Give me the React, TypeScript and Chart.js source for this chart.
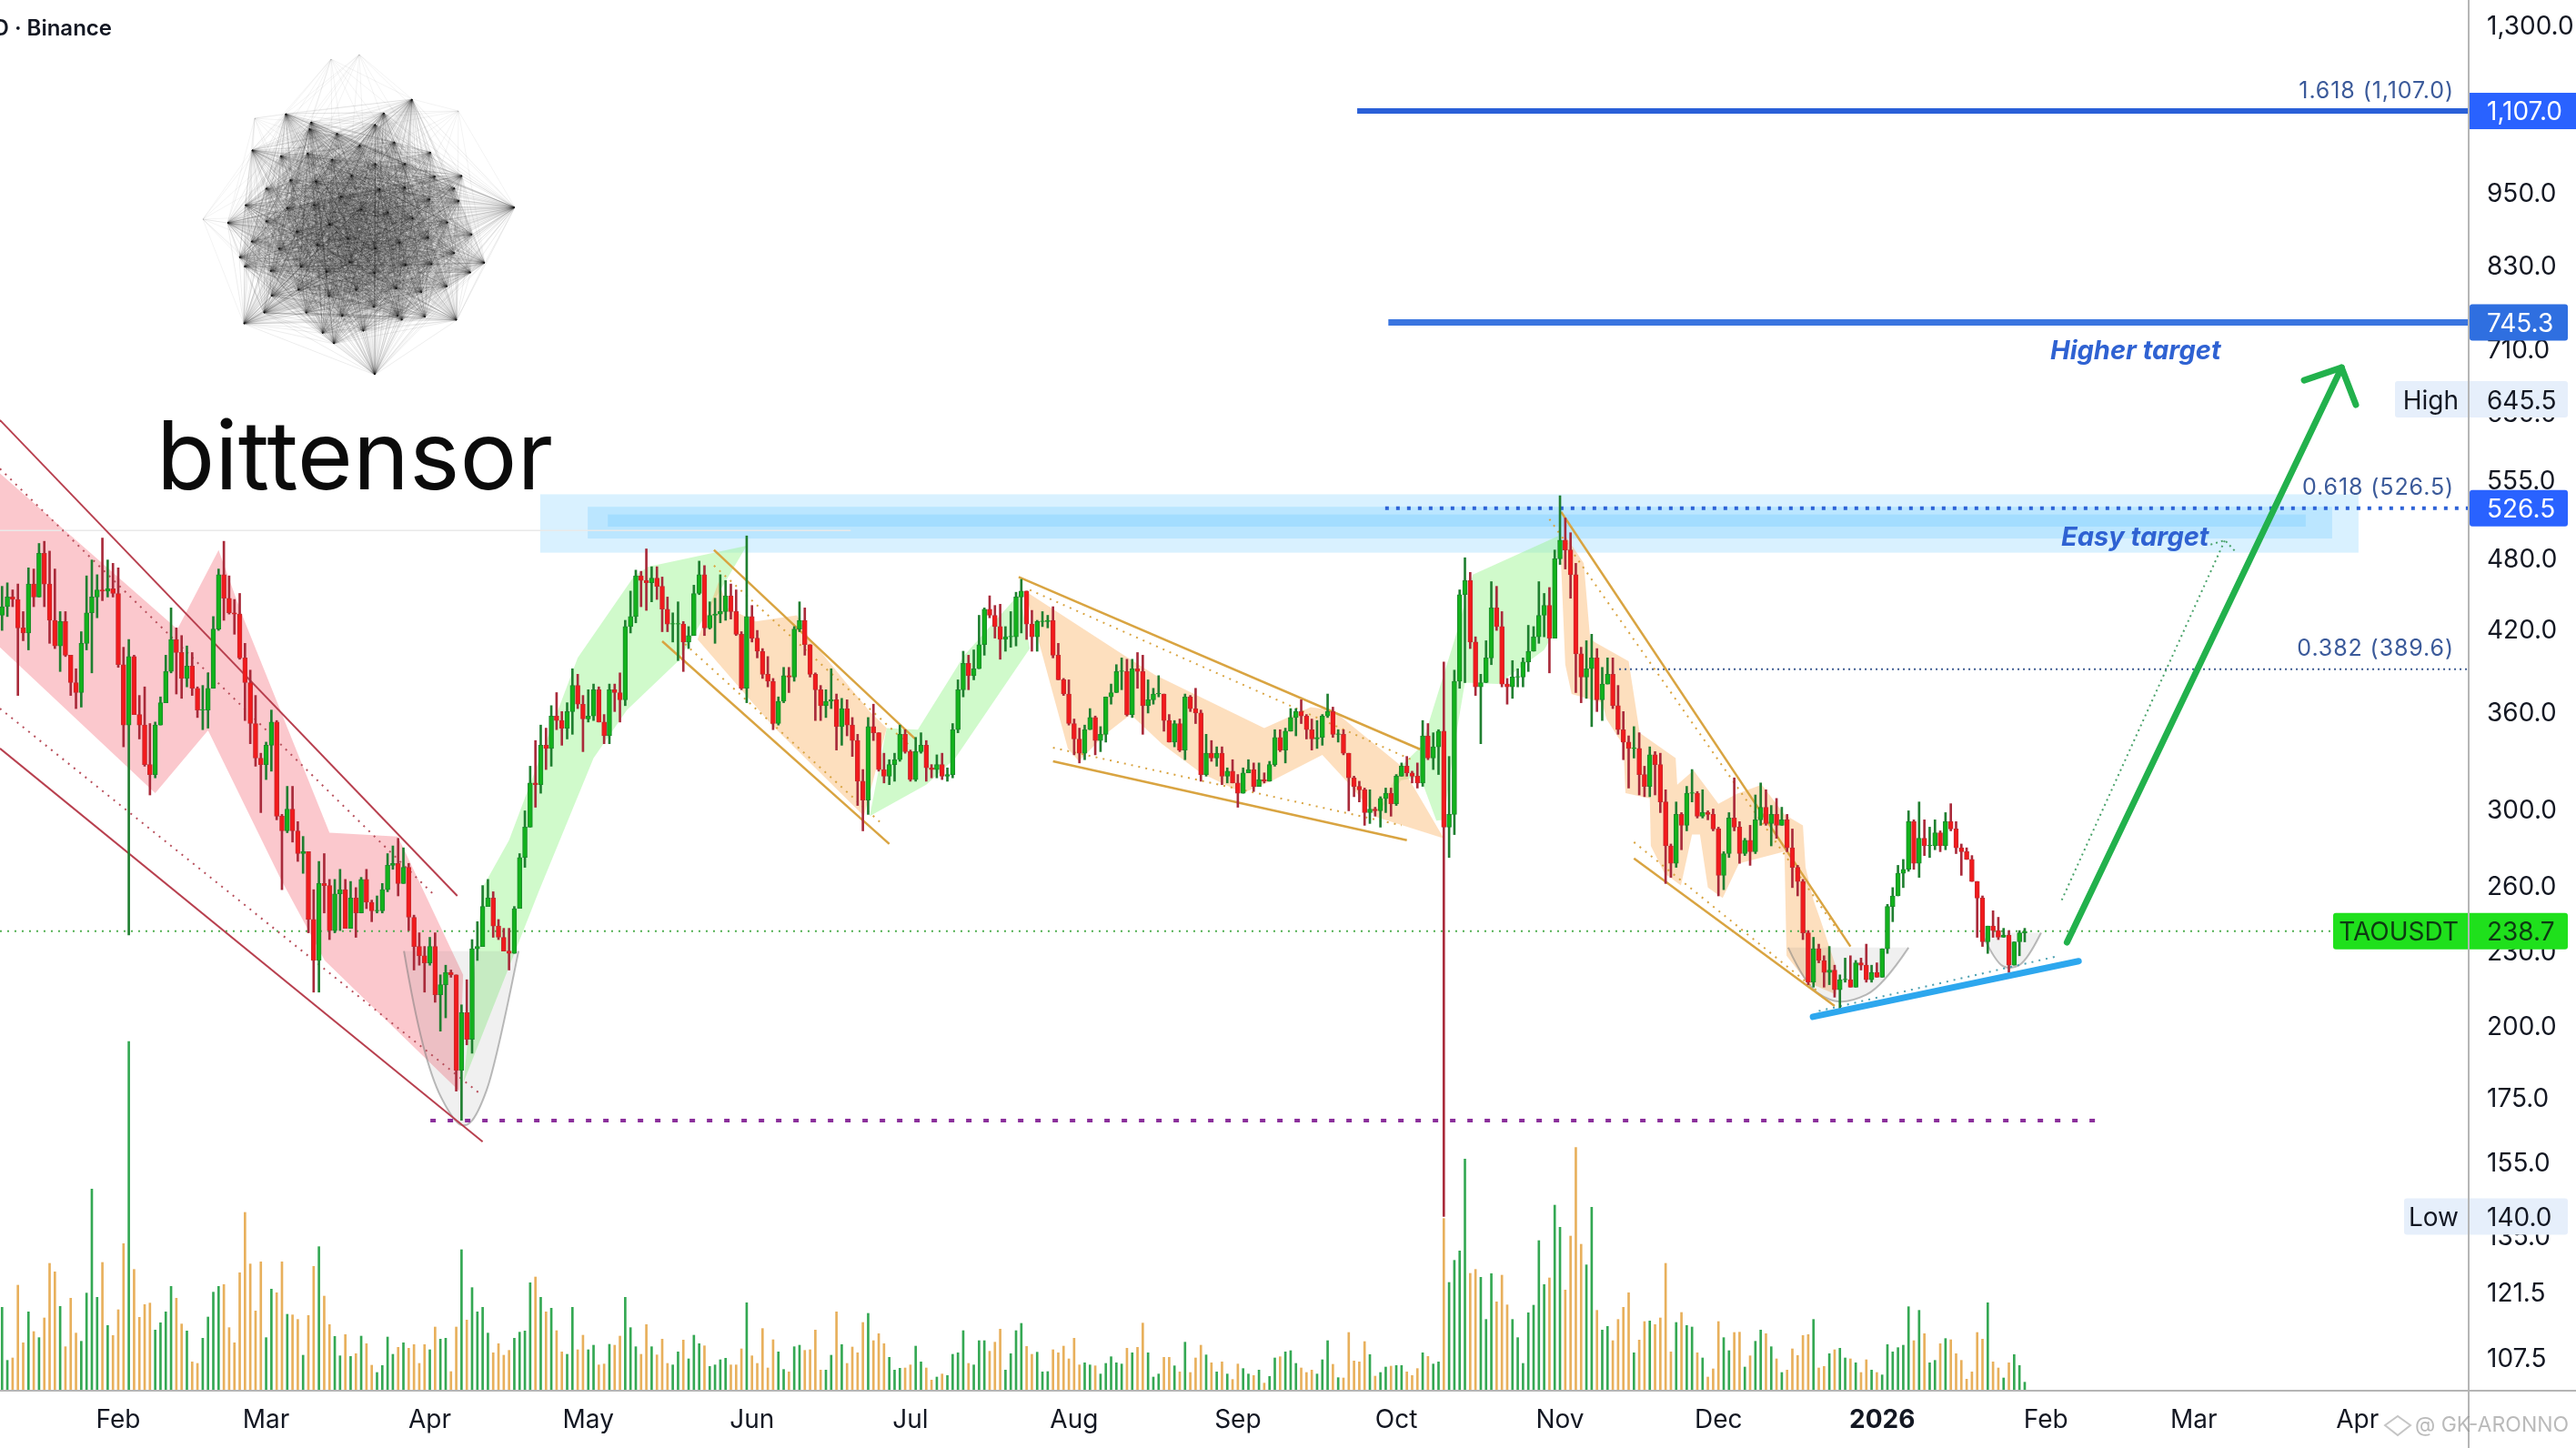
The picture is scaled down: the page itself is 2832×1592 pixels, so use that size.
import React, { useEffect, useRef } from "react";
import { Chart, registerables } from "chart.js";

Chart.register(...registerables);

// ---- daily candles, day numbers counted from 1 Feb 2025 ----
const firstDay = -22;
const firstOpen = 431;
const closes = [
  438,446,444,421,417,457,446,484,457,427, 407,426,400,380,373,409,433,446,452,451,
  453,449,393,351,399,358,351,326,320,351, 366,388,412,402,383,392,376,361,361,376,
  420,465,445,433,432,398,380,352,330,326, 338,353,296,288,300,288,276,277,244,226,
  261,260,239,256,258,240,254,247,263,252, 248,248,258,270,271,261,269,245,232,228,
  225,232,212,216,221,220,184,205,195,231, 232,250,254,241,236,230,229,249,274,290,
  315,314,338,336,357,354,349,360,378,365, 355,357,375,353,344,375,373,368,422,430,
  464,460,458,462,455,436,424,424,424,410, 415,449,465,421,431,432,434,447,434,416,
  376,430,413,403,386,381,352,367,385,384, 420,427,408,386,375,364,367,368,350,362,
  351,341,316,305,350,346,323,319,326,329, 345,334,317,334,338,324,323,326,319,320,
  348,375,394,385,390,408,436,431,422,412, 414,414,446,451,424,414,426,426,427,400,
  382,372,352,342,333,348,356,341,345,370, 373,388,388,358,390,388,364,368,372,372,
  354,340,352,335,370,362,359,320,333,330, 333,319,322,315,309,321,323,313,317,316,
  326,343,335,347,356,360,357,348,342,343, 357,360,345,345,333,318,313,311,298,300,
  299,306,309,303,319,325,321,319,315,344, 330,337,347,290,297,381,448,460,410,377,
  380,398,437,422,379,377,384,384,395,403, 414,431,439,413,479,496,487,465,401,384,
  390,398,368,379,386,364,348,340,336,336, 320,313,332,326,304,280,271,297,291,309,
  309,296,298,297,289,265,276,295,290,276, 283,277,294,301,292,297,291,294,279,269,
  262,238,217,231,226,221,222,214,218,218, 215,225,224,218,221,219,231,250,255,266,
  268,293,271,284,280,280,287,280,293,289, 279,277,273,262,254,234,241,239,236,237,
  224,234,238,238.7,
];
const highs = [
  455,458,452,457,434,471,470,493,495,486, 470,434,434,400,390,418,464,478,465,498,
  478,475,471,406,412,400,371,377,352,353, 370,400,437,421,415,407,402,377,378,387,
  430,470,495,464,444,449,409,389,371,333, 340,361,354,297,313,313,293,285,277,258,
  272,276,263,263,268,263,262,259,264,268, 253,255,261,276,280,284,279,271,246,238,
  232,236,238,220,224,222,220,208,218,235, 243,260,263,257,244,240,240,250,276,299,
  325,341,351,349,364,373,360,366,390,386, 371,375,379,377,358,379,379,387,427,451,
  469,468,488,472,472,463,446,433,442,426, 422,456,477,473,442,445,465,460,457,452,
  418,500,439,419,405,399,383,370,391,391, 422,442,437,408,387,378,375,390,372,369,
  368,356,345,323,356,365,346,333,329,333, 351,348,335,343,346,341,326,332,333,324,
  352,382,403,400,404,431,437,447,439,440, 422,434,450,461,451,435,427,434,431,438,
  409,383,382,355,349,351,362,357,350,370, 379,393,398,397,397,402,400,382,376,385,
  372,358,354,355,372,371,376,361,345,341, 337,337,324,329,320,324,329,327,327,321,
  328,348,348,349,362,362,368,358,355,354, 358,372,363,348,348,333,319,316,312,311,
  301,307,312,312,320,327,331,322,327,354, 352,346,348,395,331,389,452,480,467,414,
  386,411,459,455,434,383,396,390,398,423, 422,459,449,454,487,539,517,503,475,406,
  411,416,405,391,398,398,378,360,344,350, 346,325,337,334,333,311,281,304,298,313,
  323,310,311,299,300,290,277,298,318,293, 284,291,308,315,311,302,306,301,297,289,
  270,263,239,236,233,228,232,224,220,227, 228,226,227,233,224,225,231,251,259,270,
  273,299,294,304,294,290,294,288,298,303, 293,281,279,275,262,255,241,248,245,240,
  239,234,239,240,
];
const lows = [
  419,430,438,371,411,404,438,446,438,409, 405,388,399,371,362,363,404,387,429,443,
  446,446,391,337,237,358,342,325,308,318, 351,366,387,372,369,377,371,356,348,349,
  376,419,427,432,416,397,354,339,325,298, 317,322,294,258,287,282,272,266,238,213,
  213,247,235,238,239,240,241,236,247,249, 243,247,247,257,268,255,261,239,222,224,
  213,224,209,198,203,219,177,167.6,193,190, 226,232,250,236,235,230,222,229,250,269,
  290,301,309,323,325,348,338,342,345,362, 334,353,354,353,339,339,360,353,364,417,
  425,438,435,442,444,418,418,410,396,388, 405,415,448,415,420,409,425,427,428,415,
  375,366,410,398,383,377,348,351,366,373, 381,418,400,384,354,354,356,362,335,338,
  344,331,302,288,297,341,322,315,314,316, 328,333,316,316,333,316,318,318,317,316,
  318,346,370,375,382,390,400,429,413,397, 403,406,407,417,412,403,403,422,421,398,
  382,371,351,332,327,329,348,332,334,340, 365,373,375,357,356,376,345,359,365,370,
  347,340,337,334,329,360,352,316,319,328, 325,314,315,315,301,309,321,310,313,315,
  316,325,334,327,347,344,352,342,335,336, 338,356,343,340,332,299,307,304,291,292,
  296,290,298,296,302,319,319,315,312,313, 329,323,320,140,274,286,376,380,405,371,
  339,380,393,419,377,365,369,377,377,388, 403,409,414,387,414,474,470,445,373,366,
  369,350,360,354,379,362,345,329,312,330, 308,307,307,308,298,261,264,269,278,288,
  304,295,295,294,288,255,258,274,288,271, 275,270,276,291,291,280,284,291,277,259,
  255,235,216,215,225,215,216,211,205,217, 215,215,222,217,217,219,219,229,243,255,
  259,267,268,264,275,274,278,277,278,288, 276,265,273,262,236,232,229,236,235,236,
  221,224,228,234,
];
const volumes = [
  275,100,108,348,158,260,195,175,240,420, 392,278,145,305,190,163,322,665,308,423,
  215,182,267,485,1152,400,242,284,289,200, 224,260,344,305,220,197,95,90,173,243,
  325,344,350,208,158,389,588,418,263,425, 175,335,323,425,252,250,235,117,248,410,
  475,312,218,179,115,185,113,122,180,155, 84,60,83,177,120,143,158,140,152,90,
  152,135,210,170,173,63,210,465,233,340, 260,275,190,125,155,117,133,173,193,197,
  356,375,308,260,272,198,128,120,275,135, 183,135,150,85,88,153,150,180,308,208,
  145,120,218,145,118,170,90,85,128,167, 105,183,155,148,80,85,102,107,85,85,
  138,290,115,90,205,75,168,128,70,62, 145,150,133,135,200,68,68,117,260,152,
  90,144,125,225,255,165,188,155,110,68, 74,75,85,147,95,75,35,45,55,50,
  120,125,198,90,85,165,165,130,160,203, 68,122,198,222,146,120,127,62,63,135,
  125,147,105,173,85,92,85,82,55,90, 112,92,88,140,125,143,223,125,45,55,
  110,110,82,62,160,60,108,150,118,92, 62,95,55,37,88,73,55,50,68,25,
  47,108,112,128,132,90,75,60,68,55, 102,165,87,43,42,192,98,95,162,119,
  48,60,78,81,83,83,62,50,73,125, 113,88,95,568,357,430,461,764,387,400,
  374,235,386,293,381,283,235,175,90,257, 282,495,350,372,612,539,332,510,802,483,
  415,605,265,200,212,165,235,275,323,125, 167,228,230,218,240,420,128,225,258,215,
  210,125,108,45,72,228,175,132,192,193, 78,115,163,200,188,145,105,60,68,138,
  116,182,185,235,75,80,122,135,140,108, 105,92,60,102,68,60,52,152,128,142,
  150,277,165,265,188,92,100,155,172,168, 122,100,38,62,192,170,290,95,75,42,
  92,119,83,28,
];

// ---- axes ----
const priceTicks = [1300,950,830,710,630,555,480,420,360,300,260,230,200,175,155,135,121.5,107.5];
const monthDays = [0,28,59,89,120,150,181,212,242,273,303,334,365,393,424];
const monthLabels = ["Feb","Mar","Apr","May","Jun","Jul","Aug","Sep","Oct","Nov","Dec","2026","Feb","Mar","Apr"];

// ---- drawings on the chart, as [day, price] ----
type P = [number, number];
const redUpper: P[] = [[-22.4,621],[64.2,255]];
const redLower: P[] = [[-22.4,336],[69,161]];
const redUpperDots: P[] = [[-22.4,567],[60,255]];
const redLowerDots: P[] = [[-22.4,362],[68.6,176]];
const junUpper: P[] = [[112.8,487],[150.9,342]];
const junLower: P[] = [[103,410.6],[146,281]];
const junUpperDots: P[] = [[112.8,473],[149.8,338]];
const junLowerDots: P[] = [[107.3,408.5],[144.9,291]];
const sepUpper: P[] = [[170.5,463],[246.5,335.5]];
const sepLower: P[] = [[177,328],[244,283]];
const sepUpperDots: P[] = [[172.6,452],[245.6,328]];
const sepLowerDots: P[] = [[177,336.5],[243,291]];
const decUpper: P[] = [[273.2,523],[328,232]];
const decLower: P[] = [[287,273.5],[325,207.6]];
const decUpperDots: P[] = [[271,516],[325.9,238]];
const decLowerDots: P[] = [[287,282],[322,213]];
const supportLine: P[] = [[320.9,203.4],[371.2,225.7]];
const supportDots: P[] = [[322,205.6],[367.6,228]];
const arrowShaft: P[] = [[369,233.8],[421,685]];
const arrowHead: P[] = [[413.9,669],[421,685],[423.7,639]];
const easyPath: P[] = [[368,253],[398.9,496]];
const easyHead: P[] = [[396.2,492],[398.9,496],[401,485]];
const level1107: P[] = [[234.6,1107],[445.1,1107]];
const level745: P[] = [[240.5,745.3],[445.1,745.3]];
const level526: P[] = [[239.9,526.5],[445.1,526.5]];
const level389: P[] = [[284.2,389.6],[445.1,389.6]];
const levelLast: P[] = [[-22.4,238.7],[419.4,238.7]];
const levelLow: P[] = [[59.1,167.5],[376.2,167.5]];
const oldHigh: P[] = [[-22.4,505],[138.7,505]];

const redZone: P[] = [[-22.4,562],[11.2,420],[19,487],[23.4,432],[40,287],[52.9,285],[54.3,277],[65.3,220],[64.6,177],[39.1,226],[30.8,263],[17,347.5],[7,309],[-22.4,406]];
const greenZones: P[][] = [
  [[65.4,180],[69,259],[74,283],[87,398],[97.7,464],[100.4,472],[119,491],[106,395.5],[96.3,361],[90,330],[79.6,257]],
  [[142.3,296],[145.5,349],[151.4,348],[160.2,400],[170.7,449],[172.6,405],[158.5,330],[153,314]],
  [[238.2,296],[242.9,325],[246.8,337.6],[253.2,414],[256.5,465],[272.7,500],[271.8,417],[270,404],[261.3,379],[255,380],[252.8,334],[251,294],[249.6,293.5],[246.5,319],[242.9,316.5]],
];
const orangeZones: P[][] = [
  [[109.7,412],[113.7,459],[115.4,437],[120.7,426],[128.5,431],[130.7,414],[142.3,360],[145.5,349],[141.2,296],[123.8,351]],
  [[171.7,451],[190.8,399],[196.3,385.5],[217,349],[225.8,363],[230,361],[243,325],[251,284],[238.2,295.6],[233.2,314],[228,332],[218.6,316.5],[212.9,309],[205,321],[197.6,339],[191.7,358],[186.9,345],[181.9,328],[179.8,336]],
  [[274.2,499],[277.5,475],[278.7,413],[279.5,410],[286,395.5],[288.1,346],[294.9,330],[295.2,314],[298.3,322.5],[303,303],[306.4,308.5],[311.2,314],[315.5,297],[319,291],[319.5,269],[321,253],[322.3,244],[325.3,223],[325.3,212],[319.8,217],[315.9,228],[315.5,277],[306.9,271],[303.8,254],[301,259],[299.5,286],[298,286],[295.9,260],[292.8,266],[290.2,280],[290,306],[285.4,309],[285,338],[281.8,355],[281,366],[275.2,372],[274,393],[273.2,475]],
];
const bowls: P[][] = [
  [[54.1,230],[56,206],[59.4,181],[62.9,169],[65.4,165],[68,169],[71.5,186],[75.8,230]],
  [[316.2,231.5],[319.5,216],[324,209.5],[328,209],[334,215],[339,231.5]],
  [[352.8,238],[355.5,225],[358.4,222],[361.5,226],[364.1,238]],
];
const easyBands: [number,number,number,number][] = [
  [79.9,424.2,540.5,484.6],
  [88.9,419.2,528,497.6],
  [92.7,414.2,520.5,508.7],
];

const logoRim: P[] = [[453,109],[314,125],[268,356],[367,378],[412,412],[502,352],[533,289],[566,228],[250,245],[263,283],[277,165],[342,134],[422,124],[500,207],[290,344],[442,352]];
const logoFaint: P[] = [[364,65],[504,122],[223,241],[395,60],[280,130]];

const UP = "#12b21c", DOWN = "#f21a1c";
const UP_EDGE = "#1c8a2c", DOWN_EDGE = "#c72a2e";
const UP_WICK = "#1f7f30", DOWN_WICK = "#a92a3a";
const FONT = "Inter";

function App() {
  const ref = useRef<HTMLCanvasElement>(null);
  useEffect(() => {
    document.body.style.margin = "0";
    const opens = closes.map((_, i) => (i === 0 ? firstOpen : closes[i - 1]));
    const days = closes.map((_, i) => firstDay + i);
    const isUp = closes.map((c, i) => c >= opens[i]);

    const line = (pts: P[], color: string, width: number, dash: number[] = [], order = 5, cap: CanvasLineCap = "butt") => ({
      type: "line" as const,
      data: pts.map(([x, y]) => ({ x, y })),
      borderColor: color,
      borderWidth: width,
      borderDash: dash,
      borderCapStyle: cap,
      borderJoinStyle: "round" as const,
      pointRadius: 0,
      tension: 0,
      fill: false,
      order,
      yAxisID: "y",
      xAxisID: "x",
    });

    const overlay = {
      id: "overlay",
      beforeDatasetsDraw(chart: any) {
        const { ctx, chartArea: a, scales } = chart;
        const X = (v: number) => scales.x.getPixelForValue(v);
        const Y = (v: number) => scales.y.getPixelForValue(v);
        ctx.save();
        ctx.beginPath();
        ctx.rect(a.left, a.top, a.right - a.left, a.bottom - a.top);
        ctx.clip();

        ctx.fillStyle = "rgba(64,185,255,0.2)";
        easyBands.forEach(([d0, d1, p0, p1]) => {
          ctx.fillRect(X(d0), Y(p0), X(d1) - X(d0), Y(p1) - Y(p0));
        });

        const poly = (pts: P[], fill: string) => {
          ctx.beginPath();
          pts.forEach(([d, p], i) => (i ? ctx.lineTo(X(d), Y(p)) : ctx.moveTo(X(d), Y(p))));
          ctx.closePath();
          ctx.fillStyle = fill;
          ctx.fill();
        };
        poly(redZone, "rgba(246,140,150,0.48)");
        greenZones.forEach((z) => poly(z, "rgba(150,245,140,0.45)"));
        orangeZones.forEach((z) => poly(z, "rgba(250,185,110,0.45)"));

        bowls.forEach((b) => {
          ctx.beginPath();
          ctx.moveTo(X(b[0][0]), Y(b[0][1]));
          for (let i = 1; i < b.length - 1; i++) {
            const mx = (X(b[i][0]) + X(b[i + 1][0])) / 2;
            const my = (Y(b[i][1]) + Y(b[i + 1][1])) / 2;
            ctx.quadraticCurveTo(X(b[i][0]), Y(b[i][1]), i === b.length - 2 ? X(b[i + 1][0]) : mx, i === b.length - 2 ? Y(b[i + 1][1]) : my);
          }
          ctx.fillStyle = "rgba(120,120,120,0.11)";
          ctx.fill();
          ctx.strokeStyle = "rgba(120,120,120,0.5)";
          ctx.lineWidth = 2;
          ctx.stroke();
        });
        ctx.restore();

        // logo
        ctx.save();
        const inner: P[] = [];
        for (let i = 1; i <= 64; i++) {
          const r = 134 * Math.sqrt(i / 64);
          const t = i * 2.39996;
          inner.push([395 + r * Math.cos(t), 252 + r * 0.92 * Math.sin(t)]);
        }
        const all = [...logoRim, ...inner];
        ctx.lineWidth = 1;
        ctx.strokeStyle = "rgba(0,0,0,0.075)";
        for (let i = 0; i < all.length; i++) {
          for (let j = i + 1; j < all.length; j++) {
            ctx.beginPath();
            ctx.moveTo(all[i][0], all[i][1]);
            ctx.lineTo(all[j][0], all[j][1]);
            ctx.stroke();
          }
        }
        ctx.strokeStyle = "rgba(0,0,0,0.05)";
        logoFaint.forEach((f) => {
          logoRim.slice(0, 12).forEach((r) => {
            ctx.beginPath();
            ctx.moveTo(f[0], f[1]);
            ctx.lineTo(r[0], r[1]);
            ctx.stroke();
          });
        });
        ctx.fillStyle = "#0b0b0b";
        ctx.textAlign = "left";
        ctx.textBaseline = "alphabetic";
        ctx.font = `400 105px ${FONT}`;
        ctx.fillText("bittensor", 172, 538);
        ctx.restore();
      },
      afterDraw(chart: any) {
        const { ctx, chartArea: a, width, height, scales } = chart;
        const Y = (v: number) => scales.y.getPixelForValue(v);
        ctx.save();
        ctx.textBaseline = "middle";

        const text = (s: string, x: number, y: number, font: string, color: string, align: CanvasTextAlign = "left", spacing = "0px") => {
          ctx.font = font;
          ctx.fillStyle = color;
          ctx.textAlign = align;
          (ctx as any).letterSpacing = spacing;
          ctx.fillText(s, x, y);
          (ctx as any).letterSpacing = "0px";
        };
        const box = (x0: number, x1: number, yc: number, color: string) => {
          ctx.fillStyle = color;
          ctx.beginPath();
          ctx.roundRect(x0, yc - 20, x1 - x0, 40, 3);
          ctx.fill();
        };
        const num = `400 28px ${FONT}`;
        const X0 = a.right + 20;
        const T = 2; // optical centring of the labels inside their boxes

        text("D · Binance", 123, 32, `600 24px ${FONT}`, "#131722", "right");

        text("1.618 (1,107.0)", a.right - 16, 100, `400 25px ${FONT}`, "#3b5a9a", "right", "0.9px");
        text("0.618 (526.5)", a.right - 16, 536, `400 25px ${FONT}`, "#3b5a9a", "right", "0.9px");
        text("0.382 (389.6)", a.right - 16, 713, `400 25px ${FONT}`, "#3b5a9a", "right", "0.9px");
        text("Higher target", 2254, 386, `italic 700 29px ${FONT}`, "#2f62d2");
        text("Easy target", 2266, 591, `italic 700 29px ${FONT}`, "#2f62d2");

        box(2633, 2823, Y(645.5), "#e6effb");
        text("High", 2703, Y(645.5) + T, num, "#131722", "right");
        text("645.5", X0, Y(645.5) + T, num, "#131722");

        box(2643, 2823, Y(140), "#e6effb");
        text("Low", 2703, Y(140) + T, num, "#131722", "right");
        text("140.0", X0, Y(140) + T, num, "#131722");

        box(2565, 2823, Y(238.7), "#1fe01c");
        text("TAOUSDT", 2703, Y(238.7) + T, num, "#0d3b12", "right");
        text("238.7", X0, Y(238.7) + T, num, "#0d3b12");

        ctx.fillStyle = "#b5b5b5";
        ctx.fillRect(a.right - 1, 0, 2, height);
        ctx.fillRect(0, a.bottom - 1, width, 2);

        ctx.fillStyle = "#2962ff";
        ctx.fillRect(a.right + 1, Y(1107) - 20, width - a.right, 40);
        text("1,107.0", X0, Y(1107) + T, num, "#ffffff");
        box(a.right + 1, 2823, Y(745.3), "#2f6fe0");
        text("745.3", X0, Y(745.3) + T, num, "#ffffff");
        box(a.right + 1, 2823, Y(526.5), "#2962ff");
        text("526.5", X0, Y(526.5) + T, num, "#ffffff");

        // watermark
        ctx.strokeStyle = "rgba(150,150,150,0.55)";
        ctx.lineWidth = 2;
        ctx.beginPath();
        ctx.moveTo(2622, 1567);
        ctx.lineTo(2636, 1557);
        ctx.lineTo(2650, 1567);
        ctx.lineTo(2636, 1578);
        ctx.closePath();
        ctx.stroke();
        text("@ GK-ARONNO", 2655, 1567, `400 23px ${FONT}`, "rgba(140,140,140,0.6)");
        ctx.restore();
      },
    };

    const chart = new Chart(ref.current as HTMLCanvasElement, {
      data: {
        datasets: [
          line(arrowShaft, "#22b14c", 7, [], 0, "round"),
          line(arrowHead, "#22b14c", 7, [], 0, "round"),
          line(supportLine, "#2da7ee", 7, [], 0, "round"),
          {
            type: "bar",
            data: closes.map((c, i) => {
              const lo = Math.min(c, opens[i]);
              const hi = Math.max(c, opens[i]);
              return { x: days[i], y: [lo, hi === lo ? hi * 1.001 : hi] };
            }),
            backgroundColor: isUp.map((u) => (u ? UP : DOWN)),
            borderColor: isUp.map((u) => (u ? UP_EDGE : DOWN_EDGE)),
            borderWidth: 1,
            borderSkipped: false,
            barThickness: 5,
            grouped: false,
            order: 1,
            yAxisID: "y",
            xAxisID: "x",
          },
          {
            type: "bar",
            data: closes.map((_, i) => ({ x: days[i], y: [lows[i], highs[i]] })),
            backgroundColor: isUp.map((u) => (u ? UP_WICK : DOWN_WICK)),
            barThickness: 2,
            grouped: false,
            order: 2,
            yAxisID: "y",
            xAxisID: "x",
          },
          {
            type: "bar",
            data: volumes.map((v, i) => ({ x: days[i], y: v })),
            backgroundColor: isUp.map((u) => (u ? "#34a853" : "#e8b05c")),
            barThickness: 2,
            grouped: false,
            order: 3,
            yAxisID: "v",
            xAxisID: "x",
          },
          line(redUpper, "#b8404f", 2),
          line(redLower, "#b8404f", 2),
          line(redUpperDots, "#b8505c", 2, [2, 6]),
          line(redLowerDots, "#b8505c", 2, [2, 6]),
          line(junUpper, "#d9a441", 2.5),
          line(junLower, "#d9a441", 2.5),
          line(junUpperDots, "#d9a441", 2, [2, 6]),
          line(junLowerDots, "#d9a441", 2, [2, 6]),
          line(sepUpper, "#d9a441", 2.5),
          line(sepLower, "#d9a441", 2.5),
          line(sepUpperDots, "#d9a441", 2, [2, 6]),
          line(sepLowerDots, "#d9a441", 2, [2, 6]),
          line(decUpper, "#d9a441", 2.5),
          line(decLower, "#d9a441", 2.5),
          line(decUpperDots, "#d9a441", 2, [2, 6]),
          line(decLowerDots, "#d9a441", 2, [2, 6]),
          line(supportDots, "#4a9fb0", 2, [2, 6]),
          line(easyPath, "#4aa36b", 2, [2, 4]),
          line(easyHead, "#4aa36b", 2, [2, 4]),
          line(level1107, "#2a60d8", 6),
          line(level745, "#3a75e0", 7),
          line(level526, "#2d62d6", 4, [4, 8]),
          line(level389, "#3c5a90", 2, [2, 4]),
          line(levelLast, "#4fae4f", 2, [2, 6]),
          line(levelLow, "#8b2f9b", 4, [6, 13]),
          line(oldHigh, "#e9e9e9", 1.5),
        ] as any,
      },
      options: {
        animation: false,
        responsive: false,
        devicePixelRatio: 1,
        layout: { padding: 0, autoPadding: false },
        plugins: { legend: { display: false }, tooltip: { enabled: false } },
        scales: {
          x: {
            type: "linear",
            position: "bottom",
            offset: false,
            bounds: "data",
            min: -22.39,
            max: 445.06,
            grid: { display: false, drawTicks: false, offset: false },
            border: { display: false },
            afterFit: (s: any) => { s.height = 63; s.paddingLeft = 0; s.paddingRight = 0; },
            afterBuildTicks: (s: any) => { s.ticks = monthDays.map((value) => ({ value })); },
            ticks: {
              autoSkip: false,
              maxRotation: 0,
              padding: 16,
              color: "#131722",
              font: (c: any) => (c.tick && c.tick.value === 334
                ? { family: FONT, size: 28, weight: "700" }
                : { family: FONT, size: 28, weight: "400" }),
              callback: (v: any) => monthLabels[monthDays.indexOf(v)] ?? "",
            },
          },
          y: {
            type: "logarithmic",
            position: "right",
            bounds: "data",
            min: 101.07,
            max: 1362.4,
            grid: { display: false, drawTicks: false },
            border: { display: false },
            afterFit: (s: any) => { s.width = 118; s.paddingTop = 0; s.paddingBottom = 0; },
            afterBuildTicks: (s: any) => { s.ticks = priceTicks.map((value) => ({ value })); },
            ticks: {
              autoSkip: false,
              crossAlign: "near",
              padding: 20,
              labelOffset: 2,
              color: "#131722",
              font: { family: FONT, size: 28 },
              callback: (v: any) => Number(v).toLocaleString("en-US", { minimumFractionDigits: 1, maximumFractionDigits: 1 }),
            },
          },
          v: { type: "linear", display: false, min: 0, max: 4587 },
        },
      } as any,
      plugins: [overlay],
    });
    return () => chart.destroy();
  }, []);
  return <canvas ref={ref} width={2832} height={1592} style={{ position: "fixed", left: 0, top: 0, display: "block" }} />;
}

export default App;
